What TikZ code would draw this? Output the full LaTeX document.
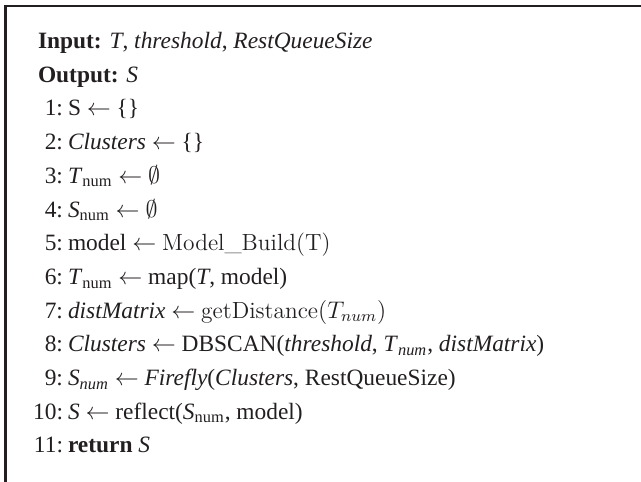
\documentclass[tikz,border=0pt]{standalone}
\usepackage{fontspec}
\setmainfont{Liberation Serif}
\newcommand{\lmfam}{\fontfamily{lmr}\selectfont}
\newcommand{\larr}{$\leftarrow$}
\definecolor{ink}{HTML}{231F20}
\begin{document}
\begin{tikzpicture}[x=0.5pt,y=-0.5pt,
  every node/.style={inner sep=0pt, outer sep=0pt, text=ink, font=\fontsize{11.7}{14}\selectfont},
  num/.style={anchor=base east},
  body/.style={anchor=base west},
  frame/.style={draw=ink, line width=1.15pt}]
\useasboundingbox (0,0) rectangle (641,481);
\draw[frame] (5.5,495) -- (5.5,6.2) -- (655,6.2);
\node[body] (in) at (38,48.5) {\textbf{Input:} \textit{T}, \textit{threshold}, \textit{RestQueueSize}};
\node[body] (out) at (38,82.2) {\textbf{Output:} \textit{S}};
\node[num] (n1) at (63,115.9) {1:};
\node[body] (l1) at (68,115.9) {S \larr\ \{\}};
\node[num] (n2) at (63,149.6) {2:};
\node[body] (l2) at (68,149.6) {\textit{Clusters} \larr\ \{\}};
\node[num] (n3) at (63,183.3) {3:};
\node[body] (l3) at (68,183.3) {\textit{T}\textsubscript{num} \larr\ $\emptyset$};
\node[num] (n4) at (63,217.0) {4:};
\node[body] (l4) at (68,217.0) {\textit{S}\textsubscript{num} \larr\ $\emptyset$};
\node[num] (n5) at (63,250.7) {5:};
\node[body] (l5) at (68,250.7) {model \larr\ {\lmfam Model\_Build(T)}};
\node[num] (n6) at (63,284.4) {6:};
\node[body] (l6) at (68,284.4) {\textit{T}\textsubscript{num} \larr\ map(\textit{T}, model)};
\node[num] (n7) at (63,318.1) {7:};
\node[body] (l7) at (68,318.1) {\textit{distMatrix} \larr\ {\lmfam getDistance}$(T_{num})$};
\node[num] (n8) at (63,351.8) {8:};
\node[body] (l8) at (68,351.8) {\textit{Clusters} \larr\ DBSCAN(\textit{threshold}, \textit{T}\textsubscript{\textit{num}}, \textit{distMatrix})};
\node[num] (n9) at (63,385.5) {9:};
\node[body] (l9) at (68,385.5) {\textit{S}\textsubscript{\textit{num}} \larr\ \textit{Firefly}(\textit{Clusters}, RestQueueSize)};
\node[num] (n10) at (63,419.2) {10:};
\node[body] (l10) at (68,419.2) {\textit{S} \larr\ reflect(\textit{S}\textsubscript{num}, model)};
\node[num] (n11) at (63,452.9) {11:};
\node[body] (l11) at (68,452.9) {\textbf{return} \textit{S}};
\end{tikzpicture}
\end{document}
